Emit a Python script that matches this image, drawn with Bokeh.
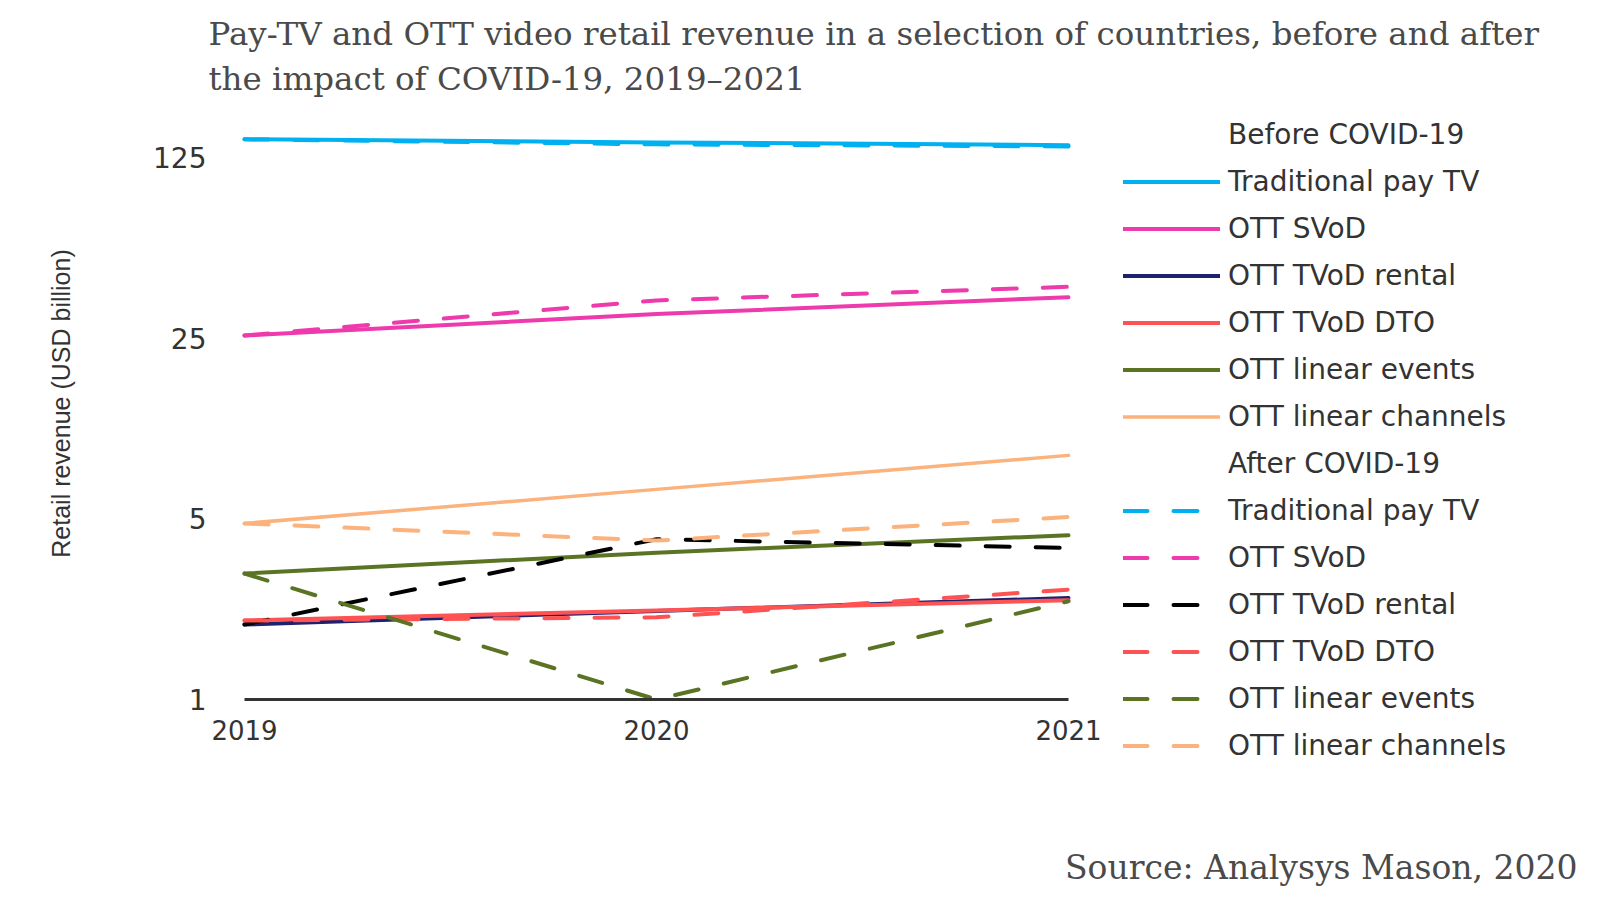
import math
from bokeh.plotting import figure
from bokeh.models import Legend, LegendItem, Title, Label, FixedTicker, Range1d, ColumnDataSource
from bokeh.embed import file_html
from bokeh.resources import INLINE

# ---------------- data ----------------
years = [2019, 2020, 2021]
series_names = ["Traditional pay TV", "OTT SVoD", "OTT TVoD rental",
                "OTT TVoD DTO", "OTT linear events", "OTT linear channels"]

before_pay_tv = [147, 143, 139.5]
before_svod = [25.6, 31, 36]
before_tvod_rental = [1.95, 2.2, 2.47]
before_tvod_dto = [2.02, 2.21, 2.42]
before_linear_events = [3.07, 3.7, 4.32]
before_linear_channels = [4.8, 6.5, 8.8]

after_pay_tv = [147, 140.5, 138]
after_svod = [25.6, 35, 39.5]
after_tvod_rental = [1.95, 4.17, 3.86]
after_tvod_dto = [2.02, 2.08, 2.66]
after_linear_events = [3.07, 1.0, 2.4]
after_linear_channels = [4.8, 4.12, 5.08]

y_ticks = [1, 5, 25, 125]
y_tick_labels = ["1", "5", "25", "125"]
x_tick_labels = ["2019", "2020", "2021"]

before_colors = ["#00b0f0", "#ee3aac", "#1c2170", "#ff5252", "#5a7424", "#fbb27c"]
after_colors = ["#00b0f0", "#ee3aac", "#000000", "#ff5252", "#5a7424", "#fbb27c"]

before_values = [before_pay_tv, before_svod, before_tvod_rental,
                 before_tvod_dto, before_linear_events, before_linear_channels]
after_values = [after_pay_tv, after_svod, after_tvod_rental,
                after_tvod_dto, after_linear_events, after_linear_channels]

title_lines = ["Pay-TV and OTT video retail revenue in a selection of countries, before and after",
               "the impact of COVID-19, 2019\u20132021"]
source_text = "Source: Analysys Mason, 2020"
y_axis_title = "Retail revenue (USD billion)"

TEXT = "#333333"
SANS = "DejaVu Sans"
SERIF = "DejaVu Serif"
TITLE_COLOR = "#4a4a4a"
DASH = "24 26"

# ---------------- geometry of the frame ----------------
FRAME_LEFT, FRAME_TOP, FRAME_BOTTOM = 10, 102, 831
FRAME_W = 1600 - FRAME_LEFT
FRAME_H = FRAME_BOTTOM - FRAME_TOP
X_FIRST_PX = 244              # where the first year sits
PX_PER_YEAR = 412.0           # 2019 -> 2021 spans 824 px
PX_PER_FACTOR5 = 180.67       # one factor of 5 on the log axis
Y_ONE_PX = 699                # where value 1 sits
x_start = years[0] - (X_FIRST_PX - FRAME_LEFT) / PX_PER_YEAR
x_end = x_start + FRAME_W / PX_PER_YEAR
y_start = 5 ** (-(FRAME_BOTTOM - Y_ONE_PX) / PX_PER_FACTOR5)
y_end = 5 ** ((Y_ONE_PX - FRAME_TOP) / PX_PER_FACTOR5)

p = figure(frame_width=FRAME_W, frame_height=FRAME_H,
           x_range=Range1d(x_start, x_end), y_range=Range1d(y_start, y_end),
           y_axis_type="log", output_backend="svg", toolbar_location=None,
           min_border_left=FRAME_LEFT, min_border_right=0,
           min_border_top=FRAME_TOP, min_border_bottom=0)
p.outline_line_color = None
p.xgrid.grid_line_color = None
p.ygrid.grid_line_color = None

p.xaxis.fixed_location = y_ticks[0]
p.xaxis.bounds = (years[0], years[-1])
p.xaxis.ticker = FixedTicker(ticks=years)
p.xaxis.major_label_overrides = {y: t for y, t in zip(years, x_tick_labels)}
p.xaxis.axis_line_color = "#333333"
p.xaxis.axis_line_width = 3
p.xaxis.major_tick_line_color = None
p.xaxis.minor_tick_line_color = None
p.xaxis.major_label_text_font = SANS
p.xaxis.major_label_text_font_size = "26px"
p.xaxis.major_label_text_color = TEXT
p.xaxis.major_label_standoff = 14

p.yaxis.fixed_location = years[0]
p.yaxis.ticker = FixedTicker(ticks=y_ticks, minor_ticks=[])
p.yaxis.major_label_overrides = {v: t for v, t in zip(y_ticks, y_tick_labels)}
p.yaxis.axis_line_color = None
p.yaxis.major_tick_line_color = None
p.yaxis.minor_tick_line_color = None
p.yaxis.major_label_text_font = SANS
p.yaxis.major_label_text_font_size = "28px"
p.yaxis.major_label_text_color = TEXT
p.yaxis.major_label_standoff = 32

# y axis title (rotated text, placed left of the tick labels)
p.add_layout(Label(x=60 - FRAME_LEFT, y=FRAME_BOTTOM - 403, x_units="screen", y_units="screen",
                   text=y_axis_title, angle=math.pi / 2, text_align="center",
                   text_baseline="middle", text_font="Liberation Sans",
                   text_font_size="25px", text_color=TEXT))

before_renderers = []
for name, vals, col in zip(series_names, before_values, before_colors):
    src = ColumnDataSource(dict(x=years, y=vals))
    w = 3.5 if name == "OTT linear channels" else 4
    before_renderers.append(p.line("x", "y", source=src, line_color=col, line_width=w,
                                   line_cap="round"))

after_renderers = []
for name, vals, col in zip(series_names, after_values, after_colors):
    src = ColumnDataSource(dict(x=years, y=vals))
    after_renderers.append(p.line("x", "y", source=src, line_color=col, line_width=4,
                                  line_dash=DASH, line_cap="round"))

empty = ColumnDataSource(dict(x=[], y=[]))
header_r = p.line("x", "y", source=empty, line_alpha=0)

# ---------------- legend (inside the wide frame) ----------------
items = [LegendItem(label="Before COVID-19", renderers=[header_r])]
items += [LegendItem(label=n, renderers=[r]) for n, r in zip(series_names, before_renderers)]
items += [LegendItem(label="After COVID-19", renderers=[header_r])]
items += [LegendItem(label=n, renderers=[r]) for n, r in zip(series_names, after_renderers)]

legend = Legend(items=items, location=(1123 - FRAME_LEFT, FRAME_BOTTOM - 761.9),
                glyph_width=97, glyph_height=27, label_height=27,
                spacing=14, label_standoff=8, padding=0, margin=0,
                border_line_alpha=0, background_fill_alpha=0,
                label_text_font=SANS, label_text_font_size="28px",
                label_text_color=TEXT)
p.add_layout(legend, "center")

# ---------------- titles ----------------
p.add_layout(Title(text=title_lines[1], align="left", offset=208 - FRAME_LEFT,
                   text_font=SERIF, text_font_size="32.5px", text_font_style="normal",
                   text_color=TITLE_COLOR, standoff=9), "above")
p.add_layout(Title(text=title_lines[0], align="left", offset=208 - FRAME_LEFT,
                   text_font=SERIF, text_font_size="32.5px", text_font_style="normal",
                   text_color=TITLE_COLOR, standoff=2), "above")
p.add_layout(Title(text=source_text, align="right", offset=23,
                   text_font=SERIF, text_font_size="33px", text_font_style="normal",
                   text_color=TITLE_COLOR, standoff=28), "below")

open("out.html", "w").write(file_html(p, INLINE))
